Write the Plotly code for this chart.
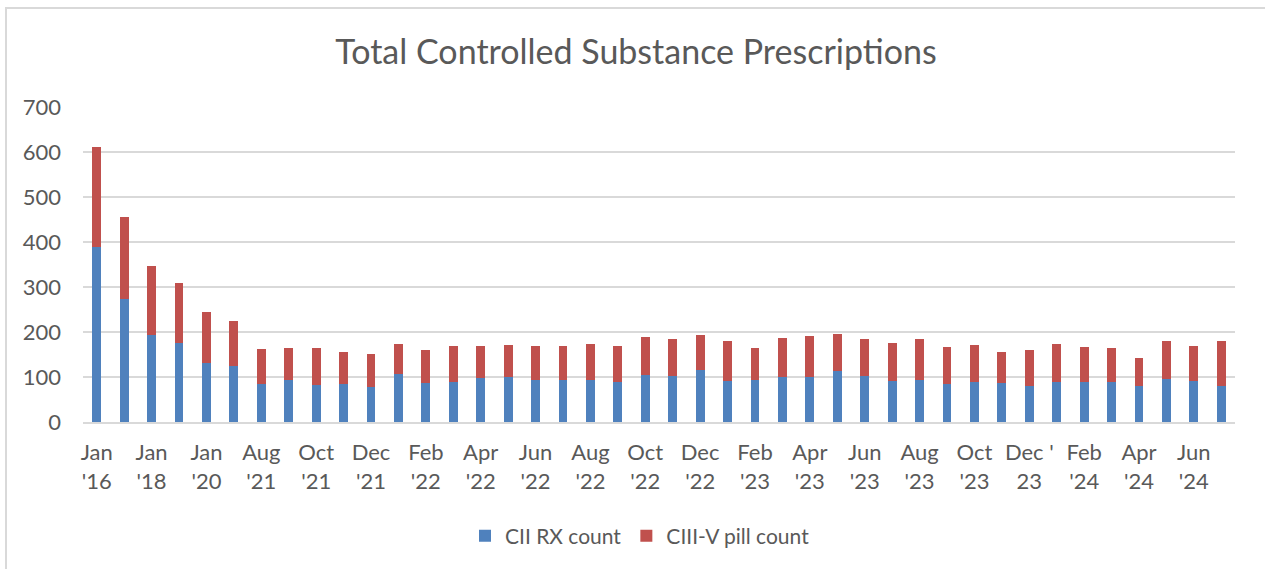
import plotly.graph_objects as go

categories = [
    "Jan '16", "Jan '17", "Jan '18", "Jan '19", "Jan '20", "Jan '21",
    "Aug '21", "Sep '21", "Oct '21", "Nov '21", "Dec '21",
    "Jan '22", "Feb '22", "Mar '22", "Apr '22", "May '22", "Jun '22",
    "Jul '22", "Aug '22", "Sep '22", "Oct '22", "Nov '22", "Dec '22",
    "Jan '23", "Feb '23", "Mar '23", "Apr '23", "May '23", "Jun '23",
    "Jul '23", "Aug '23", "Sep '23", "Oct '23", "Nov '23", "Dec '23",
    "Jan '24", "Feb '24", "Mar '24", "Apr '24", "May '24", "Jun '24",
    "Jul '24",
]

totals = [611, 456, 347, 309, 245, 224, 162, 165, 165, 156, 152, 174,
          159, 168, 168, 172, 169, 168, 174, 168, 188, 184, 193, 179,
          165, 186, 191, 196, 185, 176, 185, 166, 172, 156, 159, 174,
          166, 165, 142, 179, 169, 179]

cii_rx = [390, 274, 193, 176, 132, 124, 85, 94, 83, 85, 78, 107,
          87, 90, 98, 100, 94, 94, 93, 89, 105, 103, 115, 92,
          93, 99, 99, 113, 103, 92, 94, 85, 88, 87, 79, 88,
          88, 90, 81, 96, 92, 81]

ciii_v = [t - b for t, b in zip(totals, cii_rx)]

tick_vals = categories[::2]
tick_text = ["Jan<br>'16", "Jan<br>'18", "Jan<br>'20", "Aug<br>'21", "Oct<br>'21",
             "Dec<br>'21", "Feb<br>'22", "Apr<br>'22", "Jun<br>'22", "Aug<br>'22",
             "Oct<br>'22", "Dec<br>'22", "Feb<br>'23", "Apr<br>'23", "Jun<br>'23",
             "Aug<br>'23", "Oct<br>'23", "Dec '<br>23", "Feb<br>'24", "Apr<br>'24",
             "Jun<br>'24"]

y_ticks = [0, 100, 200, 300, 400, 500, 600, 700]

FONT = "Lato"
TXT = "#595959"
GRID = "#d9d9d9"

W, H = 1265, 569
L, R, T, B = 83, 30, 107, 147
pw, ph = W - L - R, H - T - B

fig = go.Figure()
fig.add_trace(go.Bar(x=categories, y=cii_rx, name="CII RX count",
                     marker=dict(color="#4F81BD", line=dict(width=0))))
fig.add_trace(go.Bar(x=categories, y=ciii_v, name="CIII-V pill count",
                     marker=dict(color="#C0504D", line=dict(width=0))))

fig.update_layout(
    width=W, height=H,
    margin=dict(l=L, r=R, t=T, b=B, pad=0),
    barmode="stack",
    bargap=0.68,
    plot_bgcolor="white",
    paper_bgcolor="white",
    font=dict(family=FONT, color=TXT, size=22),
    title=dict(text="Total Controlled Substance Prescriptions",
               x=(636 - L) / pw, xref="paper", xanchor="center",
               y=1 - 52 / H, yref="container", yanchor="middle",
               font=dict(family=FONT, size=34, color=TXT)),
    xaxis=dict(type="category", range=[-0.5, len(categories) - 0.5],
               tickmode="array", tickvals=tick_vals, ticktext=tick_text,
               showgrid=False, showline=True, linecolor=GRID, linewidth=1.5,
               ticks="", ticklabelstandoff=10, tickangle=0,
               tickfont=dict(family=FONT, size=22, color=TXT)),
    yaxis=dict(range=[0, 700], tickmode="array", tickvals=y_ticks,
               showgrid=True, gridcolor=GRID, gridwidth=1.5,
               zeroline=False, showline=False, ticks="",
               ticklabelstandoff=21,
               tickfont=dict(family=FONT, size=22, color=TXT)),
    legend=dict(orientation="h", x=(640 - L) / pw, xanchor="center",
                y=(ph - (536 - T)) / ph, yanchor="middle",
                font=dict(family=FONT, size=21, color=TXT),
                traceorder="normal"),
    shapes=[dict(type="rect", xref="paper", yref="paper",
                 x0=(6 - L) / pw, x1=(W + 20 - L) / pw,
                 y0=-(B + 20) / ph, y1=(ph + T - 8) / ph,
                 line=dict(color=GRID, width=2), fillcolor="rgba(0,0,0,0)",
                 layer="below")],
)

fig.write_html("out.html")
